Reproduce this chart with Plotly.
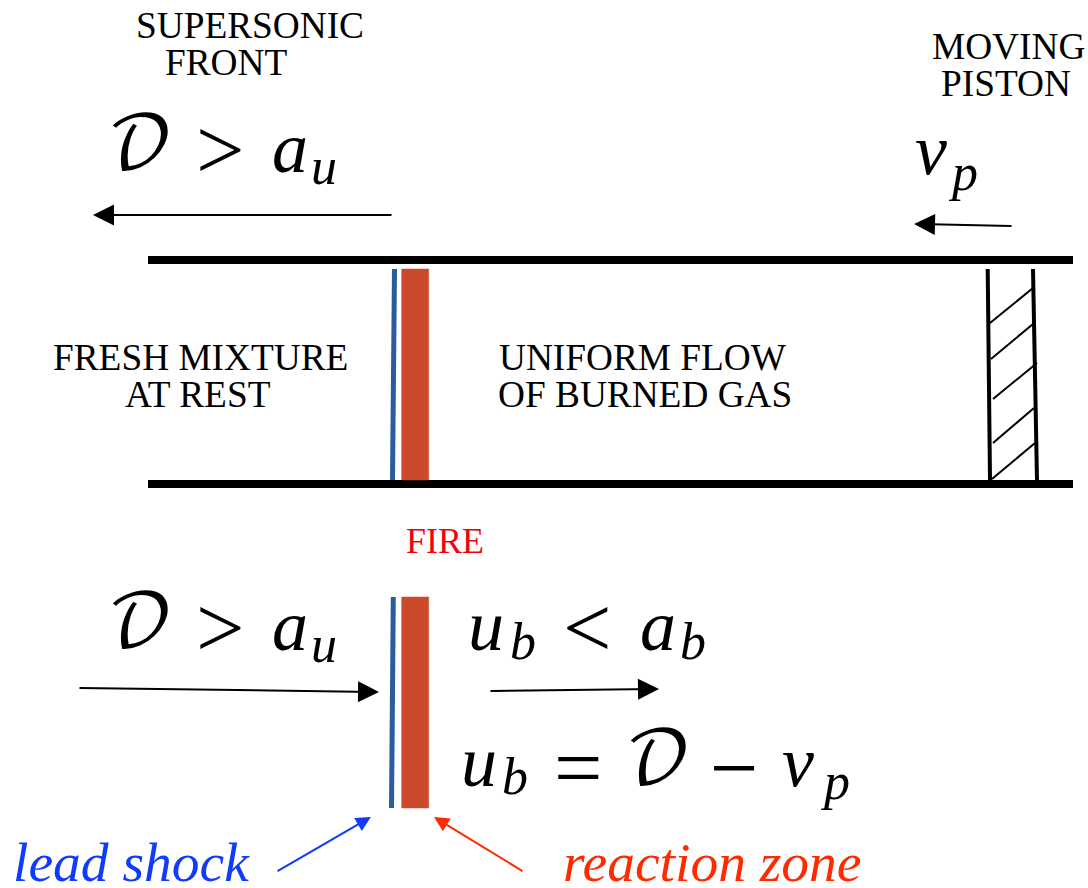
# -*- coding: utf-8 -*-
"""Detonation front in a tube driven by a moving piston."""

import plotly.graph_objects as go

SERIF = "Liberation Serif"
SCRIPT = "DejaVu Math TeX Gyre, DejaVu Serif, Liberation Serif"
BLUE = "#2B5C9E"
RUST = "#CB4A2B"
SHOCK_BLUE = "#0F3BFA"
FIRE_RED = "#FF2A00"
LABEL_RED = "#F5000F"

# tube walls: x, y
wall_x = [148, 1073]
wall_top_y = [260, 260]
wall_bottom_y = [484, 484]

# front in the tube and the close-up below it
shock_tube_x, shock_tube_y = [394.5, 392.5], [269, 480]
shock_zoom_x, shock_zoom_y = [393.3, 391.5], [597, 808]
zone_x = [401.7, 428.7, 428.7, 401.7, 401.7]
zone_tube_y = [269, 269, 480, 480, 269]
zone_zoom_y = [597, 597, 808, 808, 597]

# piston
piston_left_x, piston_left_y = [987.7, 990], [269, 480]
piston_right_x, piston_right_y = [1033, 1037], [269, 480]
hatch_x = [[990, 1033], [991, 1033], [993, 1037], [993, 1034], [992, 1035]]
hatch_y = [[323, 288], [359, 324], [399, 363], [443, 408], [479, 443]]

# arrows: tail x, tail y, tip x, tip y
black_arrows = [
    (393, 215, 93, 215),
    (1013, 226, 914, 224),
    (78, 688, 379, 692),
    (489, 691, 659, 689),
]
blue_arrow = (276, 872, 371, 817)
red_arrow = (524, 872, 434, 817)

# plain labels: text, centre x, centre y
caption_text = ["SUPERSONIC", "FRONT", "MOVING", "PISTON", "FRESH MIXTURE",
                "AT REST", "UNIFORM FLOW", "OF BURNED GAS"]
caption_x = [250, 226, 1008, 1006, 200, 198, 643, 645]
caption_y = [25, 62, 46, 83, 357, 394, 357, 394]

# formula pieces: text, left x, centre y
italic_text = ["a", "a", "u", "a", "u", "v", "v"]
italic_x = [270, 270, 466, 638, 459, 780, 913]
italic_y = [148, 626, 626, 626, 762, 762, 150]
sub_text = ["u", "u", "b", "b", "b", "p", "p"]
sub_x = [309, 309, 508, 678, 500, 818, 946]
sub_y = [166, 644, 641, 641, 776, 781, 172]
script_x = [105, 105, 623]
script_y = [148, 626, 763]
relation_text = ["&gt;", "&gt;", "&lt;", "=", "\u2212"]
relation_x = [194, 194, 561, 552, 708]
relation_y = [150, 628, 628, 768, 768]

fig = go.Figure()


def add_line(x, y, color="black", width=1.5, fill=None):
    fig.add_trace(go.Scatter(
        x=x, y=y,
        mode="lines",
        line=dict(color=color, width=width),
        fill=fill,
        fillcolor=color if fill else None,
        hoverinfo="skip",
    ))


add_line(wall_x, wall_top_y, width=8)
add_line(wall_x, wall_bottom_y, width=8)
for y in (zone_tube_y, zone_zoom_y):
    add_line(zone_x, y, color=RUST, width=0.5, fill="toself")
add_line(shock_tube_x, shock_tube_y, color=BLUE, width=5)
add_line(shock_zoom_x, shock_zoom_y, color=BLUE, width=5)
add_line(piston_left_x, piston_left_y, width=4)
add_line(piston_right_x, piston_right_y, width=4)
for hx, hy in zip(hatch_x, hatch_y):
    add_line(hx, hy, width=2)


def add_arrow(arrow, color="black", size=2.1):
    x0, y0, x1, y1 = arrow
    fig.add_annotation(
        x=x1, y=y1, ax=x0, ay=y0,
        xref="x", yref="y", axref="x", ayref="y",
        text="", showarrow=True,
        arrowhead=2, arrowsize=size, arrowwidth=2, arrowcolor=color,
    )


for a in black_arrows:
    add_arrow(a)
add_arrow(blue_arrow, color=SHOCK_BLUE, size=1.5)
add_arrow(red_arrow, color=FIRE_RED, size=1.5)


def add_text(text, x, y, size, color="black", family=SERIF, anchor="center"):
    fig.add_annotation(
        x=x, y=y, xref="x", yref="y",
        text=text, showarrow=False,
        xanchor=anchor, yanchor="middle",
        font=dict(family=family, size=size, color=color),
    )


for t, x, y in zip(caption_text, caption_x, caption_y):
    add_text(t, x, y, 37.3)
add_text("FIRE", 445, 541, 36, color=LABEL_RED)
add_text("<i>lead shock</i>", 131, 862, 55.5, color=SHOCK_BLUE)
add_text("<i>reaction zone</i>", 712, 862, 55.5, color=FIRE_RED)

for t, x, y in zip(italic_text, italic_x, italic_y):
    add_text(f"<i>{t}</i>", x, y, 72, anchor="left")
for t, x, y in zip(sub_text, sub_x, sub_y):
    add_text(f"<i>{t}</i>", x, y, 52, anchor="left")
for x, y in zip(script_x, script_y):
    add_text("\U0001D49F", x, y, 72, family=SCRIPT, anchor="left")
for t, x, y in zip(relation_text, relation_x, relation_y):
    add_text(t, x, y, 86, anchor="left")

fig.update_layout(
    width=1088,
    height=888,
    margin=dict(l=0, r=0, t=0, b=0),
    showlegend=False,
    plot_bgcolor="white",
    paper_bgcolor="white",
    xaxis=dict(range=[0, 1088], visible=False, fixedrange=True),
    yaxis=dict(range=[888, 0], visible=False, fixedrange=True),
)

# drop the page's default body margin so axis units equal page pixels
fig.write_html(
    "out.html",
    config=dict(displayModeBar=False),
    post_script="document.body.style.margin = '0';",
)
